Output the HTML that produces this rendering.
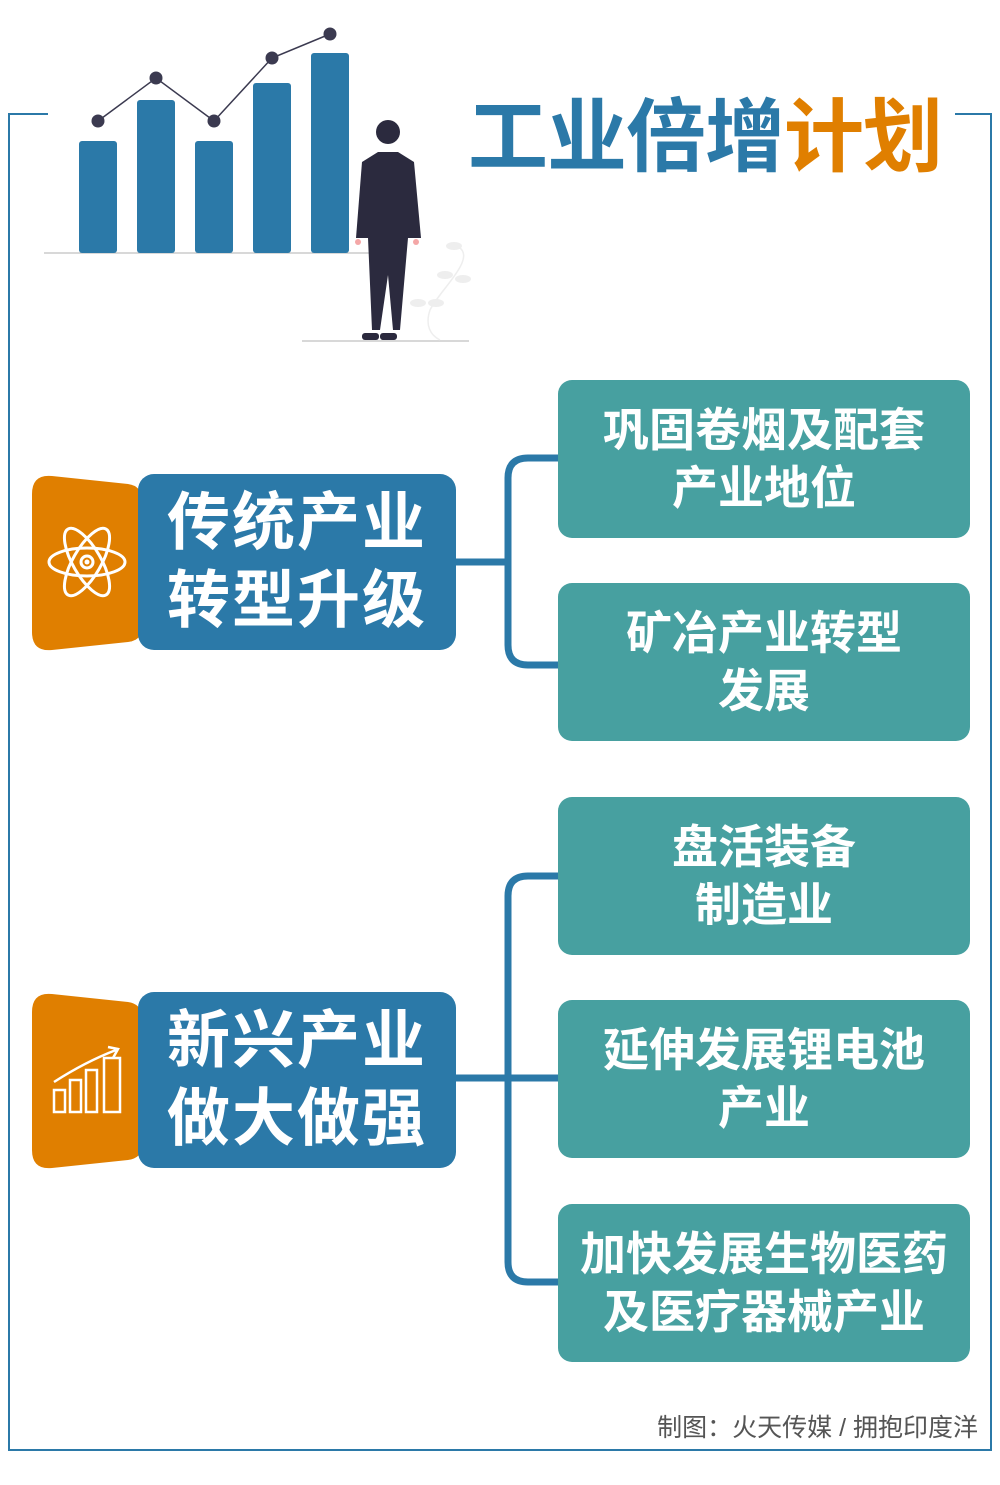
<!DOCTYPE html>
<html><head><meta charset="utf-8"><style>
body{margin:0;width:1000px;height:1485px;background:#fff;position:relative;overflow:hidden;font-family:"Liberation Sans","Noto Sans CJK SC",sans-serif}
.a{position:absolute}
.r{position:absolute;left:558px;width:412px;height:158px;background:#47a0a0;border-radius:14px;color:#fff;font-weight:bold;font-size:46px;line-height:58px;display:flex;align-items:center;justify-content:center;text-align:center}
.l{position:absolute;left:138px;width:318px;height:176px;background:#2b79a8;border-radius:16px;color:#fff;font-weight:bold;font-size:63px;line-height:78px;display:flex;align-items:center;justify-content:center;text-align:center;letter-spacing:2px}
</style></head><body>
<svg class="a" style="left:0;top:0" width="1000" height="1485">
<g fill="none" stroke="#2b79a8" stroke-width="2">
<polyline points="48,114 9,114 9,1450 991,1450 991,114 955,114"/>
</g>
<line x1="44" y1="253" x2="370" y2="253" stroke="#ccc" stroke-width="1.5"/>
<line x1="302" y1="341" x2="469" y2="341" stroke="#ccc" stroke-width="1.5"/>
<g fill="#2b79a8">
<rect x="79" y="141" width="38" height="112" rx="3"/>
<rect x="137" y="100" width="38" height="153" rx="3"/>
<rect x="195" y="141" width="38" height="112" rx="3"/>
<rect x="253" y="83" width="38" height="170" rx="3"/>
<rect x="311" y="53" width="38" height="200" rx="3"/>
</g>
<polyline points="98,121 156,78 214,121 272,58 330,34" fill="none" stroke="#3b3a50" stroke-width="1.5"/>
<g fill="#3b3a50"><circle cx="98" cy="121" r="6.5"/><circle cx="156" cy="78" r="6.5"/><circle cx="214" cy="121" r="6.5"/><circle cx="272" cy="58" r="6.5"/><circle cx="330" cy="34" r="6.5"/></g>
<g fill="#2b2a3e">
<circle cx="388" cy="132" r="12"/>
<path d="M378,152 L398,152 L414,162 L421,238 L356,238 L362,162Z"/>
<path d="M368,238 L408,238 L400,330 L393,330 L388,275 L380,330 L372,330Z"/>
<rect x="362" y="333" width="17" height="7" rx="3"/><rect x="380" y="333" width="17" height="7" rx="3"/>
</g>
<circle cx="358" cy="242" r="3" fill="#f4a7a7"/><circle cx="416" cy="242" r="3" fill="#f4a7a7"/>
<g fill="#eee"><ellipse cx="454" cy="246" rx="8" ry="4"/><ellipse cx="445" cy="275" rx="8" ry="4"/><ellipse cx="463" cy="279" rx="8" ry="4"/><ellipse cx="418" cy="303" rx="8" ry="4"/><ellipse cx="436" cy="303" rx="8" ry="4"/></g>
<path d="M460,248 C475,260 440,290 430,310 C425,325 430,335 440,340" fill="none" stroke="#eee" stroke-width="1.5"/>
<g fill="none" stroke="#2b79a8" stroke-width="7">
<path d="M456,562 L508,562"/>
<path d="M558,458 L528,458 Q508,458 508,478 L508,645 Q508,665 528,665 L558,665"/>
<path d="M456,1078 L558,1078"/>
<path d="M558,876 L528,876 Q508,876 508,896 L508,1262 Q508,1282 528,1282 L558,1282"/>
</g>
<path d="M52,476 L128,484 Q142,486 142,500 L142,628 Q142,640 128,642 L52,650 Q32,652 32,632 L32,494 Q32,474 52,476Z" fill="#e07f00"/>
<path d="M52,994 L128,1002 Q142,1004 142,1018 L142,1146 Q142,1158 128,1160 L52,1168 Q32,1170 32,1150 L32,1012 Q32,992 52,994Z" fill="#e07f00"/>
<g fill="none" stroke="#fff" stroke-width="3">
<ellipse cx="87" cy="562" rx="38" ry="14"/>
<ellipse cx="87" cy="562" rx="38" ry="14" transform="rotate(60 87 562)"/>
<ellipse cx="87" cy="562" rx="38" ry="14" transform="rotate(-60 87 562)"/>
<circle cx="87" cy="562" r="6"/>
</g>
<circle cx="87" cy="562" r="2.5" fill="#fff"/>
<g fill="none" stroke="#fff" stroke-width="2.5">
<rect x="54" y="1090" width="11" height="22"/><rect x="70" y="1080" width="11" height="32"/><rect x="86" y="1070" width="11" height="42"/><rect x="104" y="1058" width="16" height="54"/>
<path d="M54,1082 Q85,1062 116,1050"/><path d="M108,1047 L118,1049 L113,1058"/>
</g>
</svg>
<div class="a" style="left:468px;top:88px;font-size:80px;font-weight:bold;line-height:100px;letter-spacing:-1px;white-space:nowrap"><span style="color:#2b79a8">工业倍增</span><span style="color:#e07f00">计划</span></div>
<div class="l" style="top:474px">传统产业<br>转型升级</div>
<div class="l" style="top:992px">新兴产业<br>做大做强</div>
<div class="r" style="top:380px">巩固卷烟及配套<br>产业地位</div>
<div class="r" style="top:583px">矿冶产业转型<br>发展</div>
<div class="r" style="top:797px">盘活装备<br>制造业</div>
<div class="r" style="top:1000px">延伸发展锂电池<br>产业</div>
<div class="r" style="top:1204px">加快发展生物医药<br>及医疗器械产业</div>
<div class="a" style="right:22px;top:1408px;font-size:25px;color:#555;white-space:nowrap">制图：火天传媒 / 拥抱印度洋</div>
</body></html>
